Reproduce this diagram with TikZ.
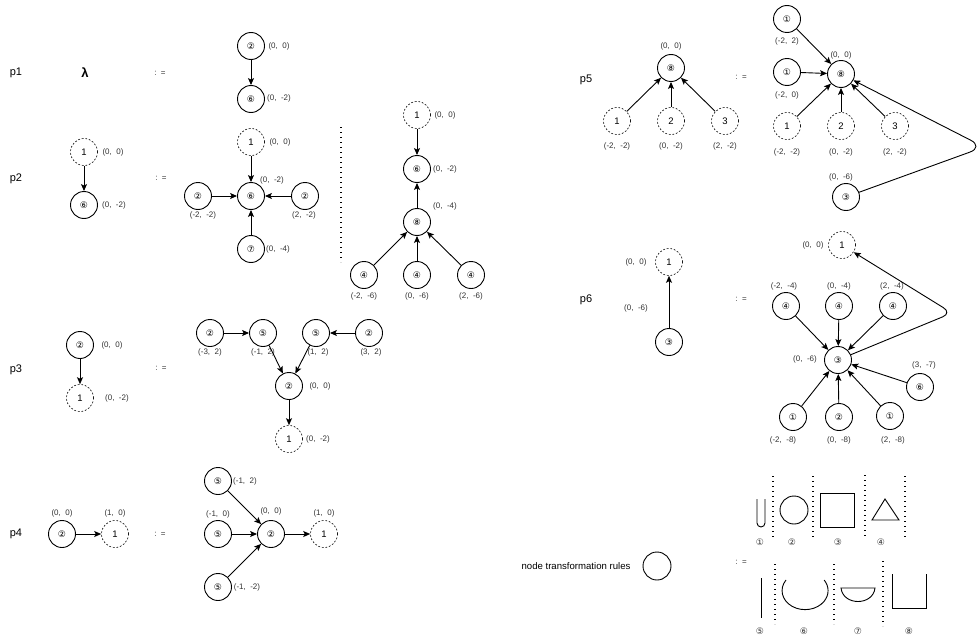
\documentclass[tikz,border=0pt]{standalone}
\usepackage{fontspec}
\usetikzlibrary{arrows.meta}
\setmainfont{Liberation Sans}
\newfontfamily\circfont{DejaVu Sans}
\tikzset{
    rulenode/.style={circle, draw, line width=0.9pt, minimum size=27pt, inner sep=0pt, font=\circfont\fontsize{9}{10}\selectfont},
    opennode/.style={circle, draw, line width=0.6pt, dash pattern=on 1.8pt off 1.8pt, minimum size=27pt, inner sep=0pt, font=\fontsize{9.5}{10}\selectfont},
    coordlab/.style={inner sep=0pt, text=black!80, font=\fontsize{8}{9}\selectfont},
    digitlab/.style={inner sep=0pt, text=black!80, font=\circfont\fontsize{9}{10}\selectfont},
    assign/.style={inner sep=0pt, text=black!80, font=\fontsize{8}{9}\selectfont},
    rowname/.style={inner sep=0pt, font=\fontsize{11}{12}\selectfont},
    edge/.style={->, line width=0.9pt},
    rulesep/.style={line width=1.2pt, dash pattern=on 1.2pt off 3.8pt},
    glyph/.style={line width=0.9pt}
}
\begin{document}
\begin{tikzpicture}[>={Stealth[length=7pt, width=6pt, inset=1.5pt]}, x=1pt, y=-1pt]
    \useasboundingbox (0,0) rectangle (977,642);

    % 1. Hàng p1
    \node[rowname] (p1) at (16,73) {p1};
    \node[inner sep=0pt, font=\bfseries\fontsize{13}{14}\selectfont] (lambda) at (85,73) {λ};
    \node[assign] (eq1) at (160,73) {:\ \ =};
    \node[rulenode] (a1) at (251,46) {②};
    \node[rulenode] (a2) at (251,99) {⑥};
    \node[coordlab] (a1l) at (279,46) {(0,\ \ 0)};
    \node[coordlab] (a2l) at (279,98) {(0,\ \ -2)};
    \draw[edge] (a1) -- (a2);

    % 2. Hàng p2
    \node[rowname] (p2) at (16,179) {p2};
    \node[opennode] (b1) at (84,152) {1};
    \node[rulenode] (b2) at (84,205) {⑥};
    \node[coordlab] (b1l) at (113,152) {(0,\ \ 0)};
    \node[coordlab] (b2l) at (114,205) {(0,\ \ -2)};
    \draw[edge] (b1) -- (b2);
    \node[assign] (eq2) at (161,178) {:\ \ =};
    \node[opennode] (c1) at (251,142) {1};
    \node[rulenode] (c2) at (251,196) {⑥};
    \node[rulenode] (c3) at (198,196) {②};
    \node[rulenode] (c4) at (305,196) {②};
    \node[rulenode] (c5) at (251,249) {⑦};
    \node[coordlab] (c1l) at (280,142) {(0,\ \ 0)};
    \node[coordlab] (c2l) at (272,180) {(0,\ \ -2)};
    \node[coordlab] (c3l) at (203,215) {(-2,\ \ -2)};
    \node[coordlab] (c4l) at (304,215) {(2,\ \ -2)};
    \node[coordlab] (c5l) at (278,249) {(0,\ \ -4)};
    \draw[edge] (c1) -- (c2);
    \draw[edge] (c3) -- (c2);
    \draw[edge] (c4) -- (c2);
    \draw[edge] (c5) -- (c2);
    \coordinate (s1) at (341,127);
    \coordinate (s2) at (341,262);
    \draw[rulesep] (s1) -- (s2);
    \node[opennode] (d1) at (417,115) {1};
    \node[rulenode] (d2) at (417,169) {⑥};
    \node[rulenode] (d3) at (417,222) {⑧};
    \node[rulenode] (d4) at (364,275) {④};
    \node[rulenode] (d5) at (417,275) {④};
    \node[rulenode] (d6) at (471,275) {④};
    \node[coordlab] (d1l) at (445,115) {(0,\ \ 0)};
    \node[coordlab] (d2l) at (445,169) {(0,\ \ -2)};
    \node[coordlab] (d3l) at (445,206) {(0,\ \ -4)};
    \node[coordlab] (d4l) at (364,296) {(-2,\ \ -6)};
    \node[coordlab] (d5l) at (417,296) {(0,\ \ -6)};
    \node[coordlab] (d6l) at (471,296) {(2,\ \ -6)};
    \draw[edge] (d1) -- (d2);
    \draw[edge] (d3) -- (d2);
    \draw[edge] (d4) -- (d3);
    \draw[edge] (d5) -- (d3);
    \draw[edge] (d6) -- (d3);

    % 3. Hàng p3
    \node[rowname] (p3) at (16,370) {p3};
    \node[rulenode] (e1) at (80,345) {②};
    \node[opennode] (e2) at (80,398) {1};
    \node[coordlab] (e1l) at (112,345) {(0,\ \ 0)};
    \node[coordlab] (e2l) at (117,398) {(0,\ \ -2)};
    \draw[edge] (e1) -- (e2);
    \node[assign] (eq3) at (161,368) {:\ \ =};
    \node[rulenode] (f1) at (210,333) {②};
    \node[rulenode] (f2) at (263,333) {⑤};
    \node[rulenode] (f3) at (316,333) {⑤};
    \node[rulenode] (f4) at (369,333) {②};
    \node[rulenode] (f5) at (289,386) {②};
    \node[opennode] (f6) at (289,439) {1};
    \node[coordlab] (f1l) at (210,352) {(-3,\ \ 2)};
    \node[coordlab] (f2l) at (263,352) {(-1,\ \ 2)};
    \node[coordlab] (f3l) at (318,352) {(1,\ \ 2)};
    \node[coordlab] (f4l) at (371,352) {(3,\ \ 2)};
    \node[coordlab] (f5l) at (320,386) {(0,\ \ 0)};
    \node[coordlab] (f6l) at (318,439) {(0,\ \ -2)};
    \draw[edge] (f1) -- (f2);
    \draw[edge] (f4) -- (f3);
    \draw[edge] (f2) -- (f5);
    \draw[edge] (f3) -- (f5);
    \draw[edge] (f5) -- (f6);

    % 4. Hàng p4
    \node[rowname] (p4) at (16,534) {p4};
    \node[rulenode] (g1) at (62,534) {②};
    \node[opennode] (g2) at (115,534) {1};
    \node[coordlab] (g1l) at (62,513) {(0,\ \ 0)};
    \node[coordlab] (g2l) at (115,513) {(1,\ \ 0)};
    \draw[edge] (g1) -- (g2);
    \node[assign] (eq4) at (160,534) {:\ \ =};
    \node[rulenode] (h1) at (218,481) {⑤};
    \node[rulenode] (h2) at (218,534) {⑤};
    \node[rulenode] (h3) at (218,587) {⑤};
    \node[rulenode] (h4) at (271,534) {②};
    \node[opennode] (h5) at (324,534) {1};
    \node[coordlab] (h1l) at (245,481) {(-1,\ \ 2)};
    \node[coordlab] (h2l) at (218,514) {(-1,\ \ 0)};
    \node[coordlab] (h3l) at (247,587) {(-1,\ \ -2)};
    \node[coordlab] (h4l) at (271,511) {(0,\ \ 0)};
    \node[coordlab] (h5l) at (324,513) {(1,\ \ 0)};
    \draw[edge] (h1) -- (h4);
    \draw[edge] (h2) -- (h4);
    \draw[edge] (h3) -- (h4);
    \draw[edge] (h4) -- (h5);

    % 5. Hàng p5
    \node[rowname] (p5) at (586,80) {p5};
    \node[rulenode] (i1) at (671,68) {⑧};
    \node[opennode] (i2) at (617,121) {1};
    \node[opennode] (i3) at (671,121) {2};
    \node[opennode] (i4) at (725,121) {3};
    \node[coordlab] (i1l) at (671,46) {(0,\ \ 0)};
    \node[coordlab] (i2l) at (617,146) {(-2,\ \ -2)};
    \node[coordlab] (i3l) at (671,146) {(0,\ \ -2)};
    \node[coordlab] (i4l) at (725,146) {(2,\ \ -2)};
    \draw[edge] (i2) -- (i1);
    \draw[edge] (i3) -- (i1);
    \draw[edge] (i4) -- (i1);
    \node[assign] (eq5) at (741,77) {:\ \ =};
    \node[rulenode] (j1) at (787,19) {①};
    \node[rulenode] (j2) at (787,72) {①};
    \node[rulenode] (j3) at (841,74) {⑧};
    \node[opennode] (j4) at (787,126) {1};
    \node[opennode] (j5) at (841,126) {2};
    \node[opennode] (j6) at (895,126) {3};
    \node[rulenode] (j7) at (846,197) {③};
    \node[coordlab] (j1l) at (787,41) {(-2,\ \ 2)};
    \node[coordlab] (j2l) at (787,95) {(-2,\ \ 0)};
    \node[coordlab] (j3l) at (841,55) {(0,\ \ 0)};
    \node[coordlab] (j4l) at (787,152) {(-2,\ \ -2)};
    \node[coordlab] (j5l) at (841,152) {(0,\ \ -2)};
    \node[coordlab] (j6l) at (895,152) {(2,\ \ -2)};
    \node[coordlab] (j7l) at (841,177) {(0,\ \ -6)};
    \draw[edge] (j1) -- (j3);
    \draw[edge] (j2) -- (j3);
    \draw[edge] (j4) -- (j3);
    \draw[edge] (j5) -- (j3);
    \draw[edge] (j6) -- (j3);
    \coordinate (j8) at (984,147);
    \draw[edge, rounded corners=15pt] (j7) -- (j8) -- (j3);

    % 6. Hàng p6
    \node[rowname] (p6) at (586,300) {p6};
    \node[opennode] (k1) at (669,262) {1};
    \node[rulenode] (k2) at (669,342) {③};
    \node[coordlab] (k1l) at (636,262) {(0,\ \ 0)};
    \node[coordlab] (k2l) at (636,308) {(0,\ \ -6)};
    \draw[edge] (k2) -- (k1);
    \node[assign] (eq6) at (741,299) {:\ \ =};
    \node[opennode] (m1) at (842,245) {1};
    \node[rulenode] (m2) at (786,306) {④};
    \node[rulenode] (m3) at (839,306) {④};
    \node[rulenode] (m4) at (893,306) {④};
    \node[rulenode] (m5) at (838,360) {③};
    \node[rulenode] (m6) at (920,387) {⑥};
    \node[rulenode] (m7) at (793,417) {①};
    \node[rulenode] (m8) at (839,417) {②};
    \node[rulenode] (m9) at (890,416) {①};
    \node[coordlab] (m1l) at (813,245) {(0,\ \ 0)};
    \node[coordlab] (m2l) at (784,286) {(-2,\ \ -4)};
    \node[coordlab] (m3l) at (839,286) {(0,\ \ -4)};
    \node[coordlab] (m4l) at (892,286) {(2,\ \ -4)};
    \node[coordlab] (m5l) at (805,359) {(0,\ \ -6)};
    \node[coordlab] (m6l) at (924,365) {(3,\ \ -7)};
    \node[coordlab] (m7l) at (783,440) {(-2,\ \ -8)};
    \node[coordlab] (m8l) at (839,440) {(0,\ \ -8)};
    \node[coordlab] (m9l) at (893,440) {(2,\ \ -8)};
    \draw[edge] (m2) -- (m5);
    \draw[edge] (m3) -- (m5);
    \draw[edge] (m4) -- (m5);
    \draw[edge] (m6) -- (m5);
    \draw[edge] (m7) -- (m5);
    \draw[edge] (m8) -- (m5);
    \draw[edge] (m9) -- (m5);
    \coordinate (m10) at (952,313);
    \draw[edge, rounded corners=10pt] (m5) -- (m10) -- (m1);

    % 7. Quy tắc biến đổi nút
    \node[inner sep=0pt, font=\fontsize{9.6}{12}\selectfont] (rules) at (576,566) {node transformation rules};
    \node[circle, draw, line width=0.9pt, minimum size=28pt, inner sep=0pt] (rulec) at (657,566) {};
    \node[assign] (eq7) at (741,562) {:\ \ =};

    % hàng trên
    \draw[glyph] (757,499) -- (757,523) arc[start angle=180, end angle=0, radius=4] -- (765,499);
    \draw[glyph] (794,510) circle (14);
    \draw[glyph] (820,493) rectangle (854,527);
    \draw[glyph] (885,499) -- (872,520) -- (899,520) -- cycle;
    \draw[rulesep] (773,476) -- (773,537);
    \draw[rulesep] (813,476) -- (813,537);
    \draw[rulesep] (865,475) -- (865,536);
    \draw[rulesep] (905,476) -- (905,537);
    \node[digitlab] (t1) at (760,542) {①};
    \node[digitlab] (t2) at (792,542) {②};
    \node[digitlab] (t3) at (838,542) {③};
    \node[digitlab] (t4) at (881,542) {④};

    % hàng dưới
    \draw[glyph] (761,578) -- (761,618);
    \draw[glyph] (786,580) arc[start angle=214, end angle=-34, x radius=23, y radius=19];
    \draw[glyph] (841,588) .. controls (843,606) and (873,606) .. (875,588) -- cycle;
    \draw[glyph] (892,574) -- (892,608) -- (926,608) -- (926,574);
    \draw[rulesep] (775,564) -- (775,624);
    \draw[rulesep] (834,564) -- (834,624);
    \draw[rulesep] (883,561) -- (883,626);
    \node[digitlab] (t5) at (760,631) {⑤};
    \node[digitlab] (t6) at (804,631) {⑥};
    \node[digitlab] (t7) at (858,631) {⑦};
    \node[digitlab] (t8) at (909,631) {⑧};

\end{tikzpicture}
\end{document}
